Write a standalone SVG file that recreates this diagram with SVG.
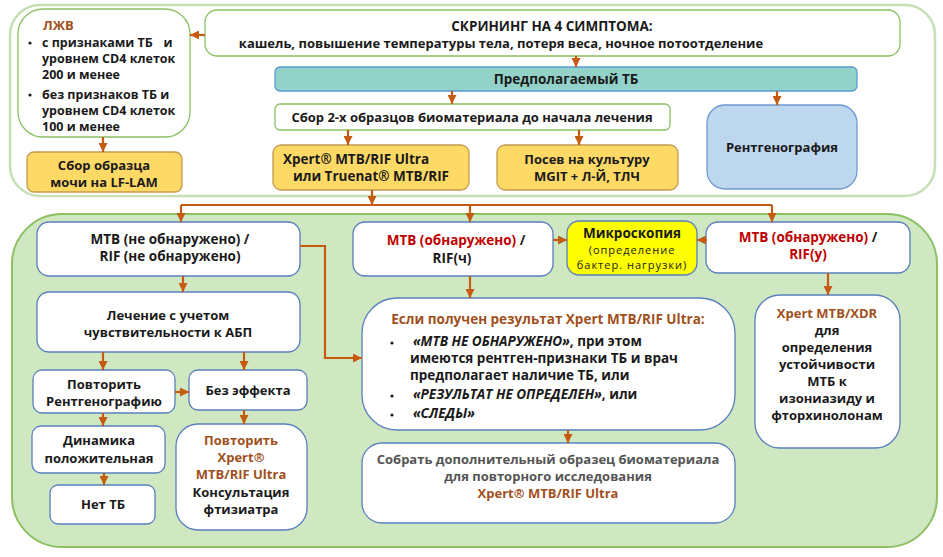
<svg xmlns="http://www.w3.org/2000/svg" width="943" height="557" viewBox="0 0 943 557">
<defs>
<marker id="ah" markerUnits="userSpaceOnUse" markerWidth="10" markerHeight="9" refX="9" refY="4.5" orient="auto">
<path d="M0,0 L9,4.5 L0,9 z" fill="#c55a11"/>
</marker>
<style>
.t{font-family:"Open Sans","Liberation Sans",sans-serif;font-weight:bold;font-size:13px;fill:#1a1a1a;text-anchor:middle}
.b{font-size:13.5px}
.s{font-size:12.5px}
.l{text-anchor:start}
.br{fill:#a0501c}
.rd{fill:#c00000}
.gy{fill:#555555}
.n{font-weight:normal;font-size:11px;letter-spacing:1px}
.i{font-style:italic}
.gbox{fill:#fff;stroke:#8cc063;stroke-width:1.3}
.bbox{fill:#fff;stroke:#5a7fbf;stroke-width:1.3}
.obox{fill:#ffd966;stroke:#c49a50;stroke-width:1.3}
.conn{stroke:#c55a11;stroke-width:2.2;fill:none}
.a{marker-end:url(#ah)}
</style>
</defs>
<rect x="0" y="0" width="943" height="557" fill="#ffffff"/>
<g id="top-container"><rect x="10" y="5" width="925" height="191" rx="30" fill="#ffffff" stroke="#c5e0b4" stroke-width="2.5"/></g>
<g id="bottom-container"><rect x="12" y="214" width="925" height="333" rx="50" fill="#cfe8c2" stroke="#8cc063" stroke-width="2"/></g>

<g id="lzhv">
<rect class="gbox" x="18" y="9" width="172" height="128" rx="25"/>
<text class="t br l" x="43" y="30">ЛЖВ</text>
<circle cx="30" cy="43" r="1.6" fill="#1a1a1a"/>
<text class="t s l" x="42" y="47">с признаками ТБ</text><text class="t s" x="168" y="47">и</text>
<text class="t s l" x="42" y="63">уровнем CD4 клеток</text>
<text class="t s l" x="42" y="79">200 и менее</text>
<circle cx="30" cy="95" r="1.6" fill="#1a1a1a"/>
<text class="t s l" x="42" y="99">без признаков ТБ и</text>
<text class="t s l" x="42" y="115">уровнем CD4 клеток</text>
<text class="t s l" x="42" y="131">100 и менее</text>
</g>

<g id="lflam">
<rect class="obox" x="27" y="152" width="155" height="40" rx="7"/>
<text class="t" x="104" y="170">Сбор образца</text>
<text class="t" x="104" y="187">мочи на LF-LAM</text>
</g>

<g id="screening">
<rect class="gbox" x="205" y="10" width="695" height="46" rx="12"/>
<text class="t b" x="552" y="31">СКРИНИНГ НА 4 СИМПТОМА:</text>
<text class="t" x="501" y="48">кашель, повышение температуры тела, потеря веса, ночное потоотделение</text>
</g>

<g id="suspected">
<rect x="275" y="67" width="582" height="24" rx="5" fill="#92d2c9" stroke="#5b9bd5" stroke-width="1.3"/>
<text class="t b" x="566" y="84">Предполагаемый ТБ</text>
</g>

<g id="collect2">
<rect class="gbox" x="275" y="104" width="395" height="26" rx="5"/>
<text class="t" x="472" y="122">Сбор 2-х образцов биоматериала до начала лечения</text>
</g>

<g id="xray">
<rect x="707" y="105" width="150" height="84" rx="18" fill="#bdd7ee" stroke="#6f9bd0" stroke-width="1.3"/>
<text class="t" x="782" y="152">Рентгенография</text>
</g>

<g id="xpert">
<rect class="obox" x="273" y="145" width="196" height="45" rx="8"/>
<text class="t b" x="356" y="164">Xpert® MTB/RIF Ultra</text>
<text class="t b" x="371" y="181">или Truenat® MTB/RIF</text>
</g>

<g id="culture">
<rect class="obox" x="497" y="145" width="181" height="45" rx="8"/>
<text class="t" x="587" y="164">Посев на культуру</text>
<text class="t" x="587" y="181">MGIT + Л-Й, ТЛЧ</text>
</g>

<g id="mtb-neg">
<rect class="bbox" x="37" y="222" width="263" height="54" rx="12"/>
<text class="t b" x="170" y="244">MTB (не обнаружено) /</text>
<text class="t b" x="170" y="261">RIF (не обнаружено)</text>
</g>

<g id="treatment">
<rect class="bbox" x="37" y="292" width="263" height="60" rx="12"/>
<text class="t" x="168" y="320">Лечение с учетом</text>
<text class="t" x="168" y="337">чувствительности к АБП</text>
</g>

<g id="repeat-xray">
<rect class="bbox" x="33" y="370" width="142" height="43" rx="9"/>
<text class="t" x="104" y="389">Повторить</text>
<text class="t" x="104" y="406">Рентгенографию</text>
</g>

<g id="no-effect">
<rect class="bbox" x="189" y="370" width="118" height="40" rx="9"/>
<text class="t" x="248" y="395">Без эффекта</text>
</g>

<g id="dynamics">
<rect class="bbox" x="32" y="426" width="133" height="47" rx="9"/>
<text class="t" x="99" y="445">Динамика</text>
<text class="t" x="99" y="463">положительная</text>
</g>

<g id="no-tb">
<rect class="bbox" x="50" y="485" width="105" height="39" rx="8"/>
<text class="t" x="103" y="509">Нет ТБ</text>
</g>

<g id="repeat-xpert">
<rect class="bbox" x="176" y="424" width="131" height="106" rx="22"/>
<text class="t br" x="241" y="445">Повторить</text>
<text class="t br" x="241" y="462">Xpert®</text>
<text class="t br" x="241" y="479">MTB/RIF Ultra</text>
<text class="t" x="241" y="497">Консультация</text>
<text class="t" x="241" y="514">фтизиатра</text>
</g>

<g id="mtb-pos-s">
<rect class="bbox" x="353" y="222" width="200" height="54" rx="12"/>
<text class="t b" x="456" y="245"><tspan class="rd">MTB (обнаружено)</tspan> /</text>
<text class="t b" x="452" y="263">RIF(ч)</text>
</g>

<g id="microscopy">
<rect x="567" y="221" width="130" height="54" rx="12" fill="#ffff00" stroke="#5a7fbf" stroke-width="1.3"/>
<text class="t b" x="632" y="238">Микроскопия</text>
<text class="t n" x="632" y="254">(определение</text>
<text class="t n" x="632" y="269">бактер. нагрузки)</text>
</g>

<g id="mtb-pos-r">
<rect class="bbox" x="706" y="222" width="204" height="51" rx="12"/>
<text class="t b" x="808" y="242"><tspan class="rd">MTB (обнаружено)</tspan> /</text>
<text class="t b rd" x="808" y="259">RIF(у)</text>
</g>

<g id="xdr">
<rect class="bbox" x="755" y="295" width="145" height="153" rx="25"/>
<text class="t br" x="827" y="318">Xpert MTB/XDR</text>
<text class="t" x="827" y="335">для</text>
<text class="t" x="827" y="352">определения</text>
<text class="t" x="827" y="369">устойчивости</text>
<text class="t" x="827" y="386">МТБ к</text>
<text class="t" x="827" y="403">изониазиду и</text>
<text class="t" x="827" y="420">фторхинолонам</text>
</g>

<g id="if-result">
<rect class="bbox" x="362" y="298" width="373" height="132" rx="35"/>
<text class="t b br" x="548" y="324">Если получен результат Xpert MTB/RIF Ultra:</text>
<circle cx="392" cy="343" r="1.6" fill="#1a1a1a"/>
<text class="t b l" x="413" y="346"><tspan class="i">«MTB НЕ ОБНАРУЖЕНО»</tspan>, при этом</text>
<text class="t b l" x="410" y="363">имеются рентген-признаки ТБ и врач</text>
<text class="t b l" x="410" y="380">предполагает наличие ТБ, или</text>
<circle cx="392" cy="396" r="1.6" fill="#1a1a1a"/>
<text class="t b l" x="413" y="399"><tspan class="i">«РЕЗУЛЬТАТ НЕ ОПРЕДЕЛЕН»</tspan>, или</text>
<circle cx="392" cy="415" r="1.6" fill="#1a1a1a"/>
<text class="t b l i" x="413" y="418">«СЛЕДЫ»</text>
</g>

<g id="collect-extra">
<rect class="bbox" x="362" y="443" width="373" height="80" rx="20"/>
<text class="t gy" x="548" y="464">Собрать дополнительный образец биоматериала</text>
<text class="t gy" x="548" y="481">для повторного исследования</text>
<text class="t br" x="548" y="498">Xpert® MTB/RIF Ultra</text>
</g>

<g id="connectors">
<path class="conn a" d="M205,35 H190"/>
<path class="conn a" d="M103,137 V152"/>
<path class="conn a" d="M576,56 V67"/>
<path class="conn a" d="M452,91 V104"/>
<path class="conn a" d="M777,91 V105"/>
<path class="conn a" d="M348,130 V145"/>
<path class="conn a" d="M579,130 V145"/>
<path class="conn a" d="M372,190 V205"/>
<path class="conn" d="M181,205 H772"/>
<path class="conn a" d="M181,205 V222"/>
<path class="conn a" d="M470,205 V222"/>
<path class="conn a" d="M772,205 V222"/>
<path class="conn a" d="M183,276 V292"/>
<path class="conn a" d="M300,246 H325 V358 H362"/>
<path class="conn a" d="M103,352 V370"/>
<path class="conn a" d="M244,352 V370"/>
<path class="conn a" d="M175,392 H189"/>
<path class="conn a" d="M103,413 V426"/>
<path class="conn a" d="M104,473 V485"/>
<path class="conn a" d="M244,410 V424"/>
<path class="conn a" d="M553,240 H567"/>
<path class="conn a" d="M707,240 H697"/>
<path class="conn a" d="M470,276 V298"/>
<path class="conn a" d="M568,430 V443"/>
<path class="conn a" d="M828,273 V295"/>
</g>
</svg>
